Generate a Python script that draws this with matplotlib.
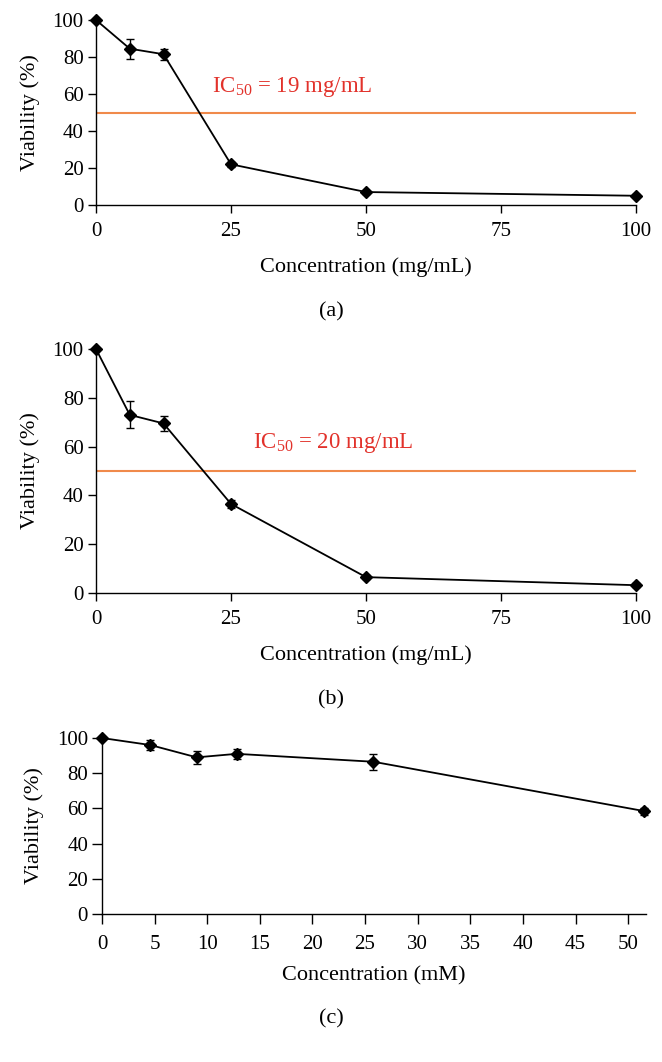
import matplotlib
matplotlib.use("Agg")
import matplotlib.pyplot as plt

plt.rcParams['font.family'] = ['Liberation Serif', 'DejaVu Serif']
plt.rcParams['mathtext.default'] = 'regular'

# Panel (a)
xa = [0, 6.25, 12.5, 25, 50, 100]
ya = [100, 84.5, 81.5, 22, 7, 5]
ea = [0.5, 5.5, 3, 1.5, 0.8, 0.8]
# Panel (b)
xb = [0, 6.25, 12.5, 25, 50, 100]
yb = [100, 73, 69.5, 36.5, 6.5, 3.2]
eb = [0.5, 5.5, 3, 1.5, 0.8, 0.8]
# Panel (c)
xc = [0, 4.6, 9.0, 12.8, 25.8, 51.5]
yc = [100, 96, 89, 91, 86.5, 58.5]
ec = [0.5, 3, 3.5, 3, 4.5, 2]

xticks_ab = [0, 25, 50, 75, 100]
xticks_c = [0, 5, 10, 15, 20, 25, 30, 35, 40, 45, 50]
yticks = [0, 20, 40, 60, 80, 100]
ic50_a = 'IC$_{50}$ = 19 mg/mL'
ic50_b = 'IC$_{50}$ = 20 mg/mL'

W, H = 662, 1062
fig = plt.figure(figsize=(W / 100, H / 100), dpi=100)


def make_ax(left, right, top, bottom):
    return fig.add_axes([left / W, 1 - bottom / H, (right - left) / W, (bottom - top) / H])


def style(ax, xlim, xticks, xlabel, sub, sub_y, ticklen=6, xpad=6, xlabelpad=12):
    ax.set_xlim(*xlim)
    ax.set_ylim(0, 100)
    ax.set_xticks(xticks)
    ax.set_yticks(yticks)
    for s in ['top', 'right']:
        ax.spines[s].set_visible(False)
    for s in ['left', 'bottom']:
        ax.spines[s].set_linewidth(1.0)
    ax.tick_params(direction='out', length=ticklen, width=1.0, labelsize=15)
    ax.tick_params(axis='x', pad=xpad)
    ax.tick_params(axis='y', pad=3)
    ax.set_ylabel('Viability (%)', fontsize=16, labelpad=9)
    ax.set_xlabel(xlabel, fontsize=16, labelpad=xlabelpad)
    fig.text(0.5, 1 - sub_y / H, sub, ha='center', va='center', fontsize=16)


def draw(ax, x, y, e):
    ax.errorbar(x, y, yerr=e, color='black', lw=1.3, marker='D', ms=6,
                capsize=3, elinewidth=1.0, capthick=1.0, clip_on=False, zorder=3)


ax1 = make_ax(96, 636, 20, 205)
ax1.plot([0, 100], [50, 50], color='#f08a4b', lw=1.5, zorder=2)
draw(ax1, xa, ya, ea)
ax1.text(21.5, 64, ic50_a, color='#e2322b', fontsize=16.5, va='center', ha='left')
style(ax1, (0, 100), xticks_ab, 'Concentration (mg/mL)', '(a)', 312)

ax2 = make_ax(96, 636, 349, 593)
ax2.plot([0, 100], [50, 50], color='#f08a4b', lw=1.5, zorder=2)
draw(ax2, xb, yb, eb)
ax2.text(29, 61.5, ic50_b, color='#e2322b', fontsize=16.5, va='center', ha='left')
style(ax2, (0, 100), xticks_ab, 'Concentration (mg/mL)', '(b)', 700)

ax3 = make_ax(102, 646, 738, 914)
draw(ax3, xc, yc, ec)
style(ax3, (0, 51.7), xticks_c, 'Concentration (mM)', '(c)', 1019,
      ticklen=7, xpad=8, xlabelpad=9)

fig.savefig('out.png', dpi=100)
